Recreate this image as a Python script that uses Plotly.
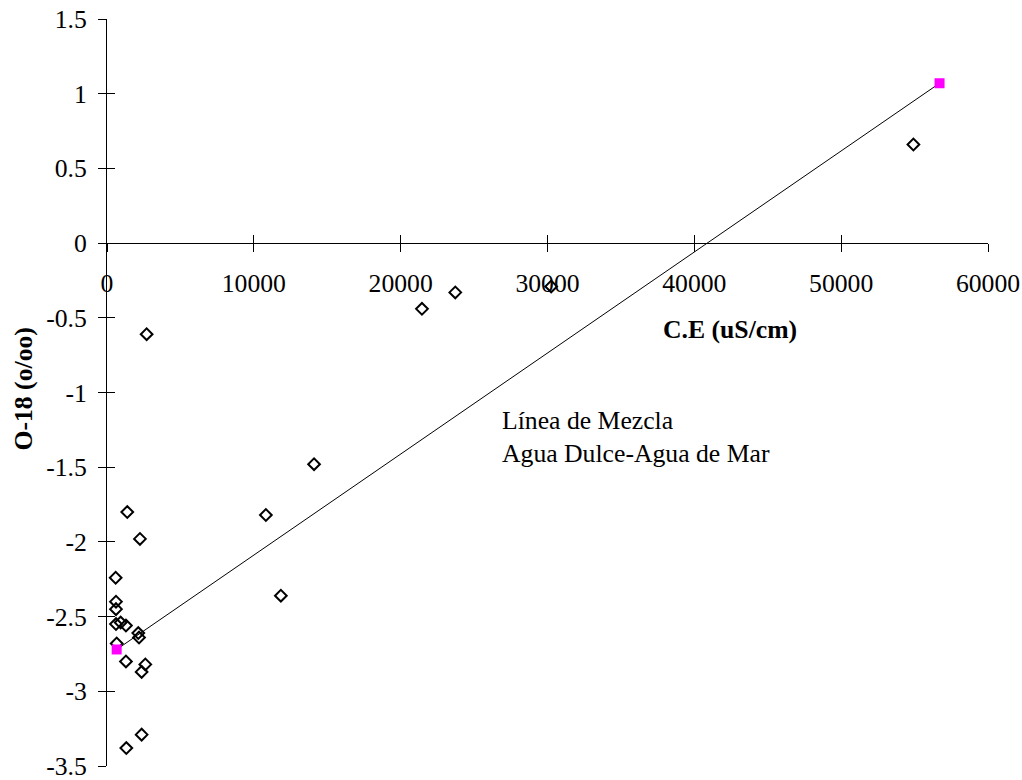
import plotly.graph_objects as go

# Data: electrical conductivity (uS/cm) vs O-18 (o/oo)
ce_samples = [1380, 2245, 590, 612, 612, 612, 930, 1290, 2130, 2180, 660, 1290,
              2610, 2360, 2360, 1315, 10820, 14100, 21450, 23720, 30250, 2700,
              11840, 54920]
o18_samples = [-1.80, -1.98, -2.24, -2.40, -2.45, -2.55, -2.54, -2.56, -2.61, -2.64,
               -2.68, -2.80, -2.82, -2.87, -3.29, -3.38, -1.82, -1.48, -0.44, -0.33,
               -0.29, -0.61, -2.36, 0.66]

# End members of the mixing line (fresh water - sea water)
ce_end = [660, 56700]
o18_end = [-2.72, 1.07]

x_ticks = [0, 10000, 20000, 30000, 40000, 50000, 60000]
y_ticks = [-3.5, -3, -2.5, -2, -1.5, -1, -0.5, 0, 0.5, 1, 1.5]

FONT = "Liberation Serif"
FS = 25.7
F = dict(family=FONT, size=FS, color="black")

fig = go.Figure()

fig.add_trace(go.Scatter(
    x=ce_samples, y=o18_samples, mode="markers",
    marker=dict(symbol="diamond-open", size=9, color="black", line=dict(width=2, color="black")),
    showlegend=False, hoverinfo="x+y"))

fig.add_trace(go.Scatter(
    x=ce_end, y=o18_end, mode="lines+markers",
    line=dict(color="black", width=1),
    marker=dict(symbol="square", size=10, color="#FF00FF"),
    showlegend=False))

# invisible trace to carry the overlay axes (for cross tick marks)
fig.add_trace(go.Scatter(x=[0], y=[0], xaxis="x2", yaxis="y2", mode="markers",
                         marker=dict(opacity=0), showlegend=False, hoverinfo="skip"))

axis_common = dict(showgrid=False, zeroline=False, showline=True, linecolor="black",
                   linewidth=1, tickcolor="black", ticklen=8, tickwidth=1,
                   automargin=False, tickfont=F, ticklabeloverflow="allow")

fig.update_layout(
    template="none",
    width=1022, height=780,
    margin=dict(l=107, r=34, t=19, b=14),
    paper_bgcolor="white", plot_bgcolor="white",
    font=F,
    xaxis=dict(range=[0, 60000], tickvals=x_ticks, ticktext=[str(v) for v in x_ticks],
               ticks="outside", anchor="free", position=0.7, ticklabelstandoff=9,
               **axis_common),
    yaxis=dict(range=[-3.5, 1.5], tickvals=y_ticks, ticktext=[f"{v:g}" for v in y_ticks],
               ticks="outside", ticklabelstandoff=6, **axis_common),
    xaxis2=dict(range=[0, 60000], tickvals=x_ticks, ticks="inside", showticklabels=False,
                overlaying="x", anchor="free", position=0.7, **axis_common),
    yaxis2=dict(range=[-3.5, 1.5], tickvals=y_ticks, ticks="inside", showticklabels=False,
                overlaying="y", anchor="x", **axis_common),
    annotations=[
        dict(text="<b>C.E (uS/cm)</b>", x=42400, y=-0.58, xref="x", yref="y",
             showarrow=False, xanchor="center", yanchor="middle", font=F),
        dict(text="<b>O-18 (o/oo)</b>", x=-0.0953, y=-0.98, xref="paper", yref="y",
             textangle=-90, showarrow=False, xanchor="center", yanchor="middle", font=F),
        dict(text="Línea de Mezcla<br>Agua Dulce-Agua de Mar", x=26737, y=-1.30,
             xref="x", yref="y", showarrow=False, xanchor="left", yanchor="middle",
             align="left", font=F),
    ],
)

# remove the default page margin so the figure fills the window exactly
fig.write_html("out.html", config={"displayModeBar": False},
               post_script="document.body.style.margin='0px';document.body.style.overflow='hidden';")
